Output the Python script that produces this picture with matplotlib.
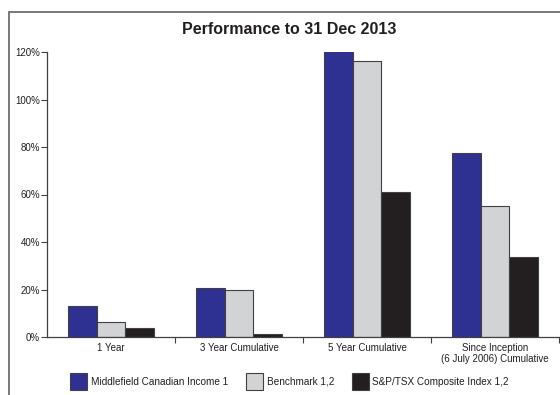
import matplotlib
matplotlib.use("Agg")
import matplotlib.pyplot as plt
from matplotlib.patches import Rectangle
import numpy as np

plt.rcParams['font.family'] = ['Liberation Sans', 'DejaVu Sans']

categories = ["1 Year", "3 Year Cumulative", "5 Year Cumulative",
              "Since Inception\n(6 July 2006) Cumulative"]
series_names = ["Middlefield Canadian Income 1", "Benchmark 1,2", "S&P/TSX Composite Index 1,2"]
fund = [13.0, 20.8, 120.5, 77.6]
benchmark = [6.4, 19.8, 116.1, 55.3]
tsx = [3.8, 1.4, 61.2, 33.6]
yticks = [0, 20, 40, 60, 80, 100, 120]
colors = ["#2E3192", "#D1D3D4", "#231F20"]

W, H = 560, 395
fig = plt.figure(figsize=(W/100, H/100), dpi=100)

# outer frame (clipped at right and bottom)
fig.patches.append(Rectangle((9/W, -0.1), 1.2, 1 - 12/H + 0.1, transform=fig.transFigure,
                             fill=False, edgecolor="#6d6e71", linewidth=1.3))

ax = fig.add_axes([47/W, 1 - 337/H, (559-47)/W, (337-52)/H])
x = np.arange(len(categories))
bw = 0.225
for i, (vals, c) in enumerate(zip([fund, benchmark, tsx], colors)):
    ax.bar(x + (i - 1) * bw, vals, width=bw, color=c, edgecolor="#414042",
           linewidth=0.8, label=series_names[i], zorder=2)

ax.set_xlim(-0.5, len(categories) - 0.5)
ax.set_ylim(0, 120)
ax.set_yticks(yticks)
ax.set_yticklabels([f"{v}%" for v in yticks], fontsize=7, color="#231F20")
ax.set_xticks(x)
ax.set_xticklabels(categories, fontsize=7, color="#231F20", linespacing=1.2)
ax.tick_params(axis='x', length=0, pad=4)
ax.set_xticks(np.arange(len(categories)) + 0.5, minor=True)
ax.tick_params(axis='x', which='minor', length=4, width=0.8, color="#414042", direction='out')
ax.tick_params(axis='y', length=4, width=0.8, color="#414042", pad=1)
for s in ['top', 'right']:
    ax.spines[s].set_visible(False)
for s in ['left', 'bottom']:
    ax.spines[s].set_color("#414042")
    ax.spines[s].set_linewidth(0.9)

fig.text(289/W, 1 - 30/H, "Performance to 31 Dec 2013", ha='center', va='center',
         fontsize=11.5, fontweight='bold', color="#231F20")

# manual legend
sq_x = [70, 246, 352]
tx_x = [91, 267, 372]
for c, name, sx, tx in zip(colors, series_names, sq_x, tx_x):
    fig.patches.append(Rectangle((sx/W, 1 - 390/H), 17/W, 17/H, transform=fig.transFigure,
                                 facecolor=c, edgecolor="#414042", linewidth=0.8))
    fig.text(tx/W, 1 - 382/H, name, ha='left', va='center', fontsize=7.2, color="#231F20")

fig.savefig("out.png", dpi=100)
